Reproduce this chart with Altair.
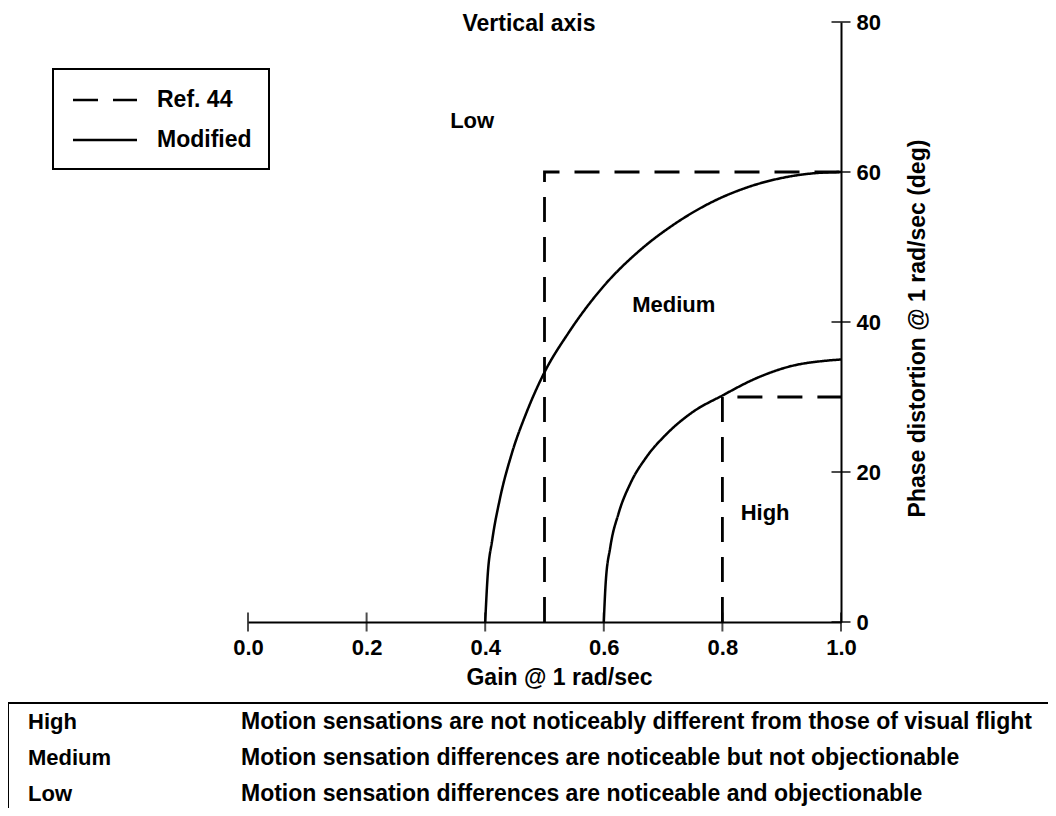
import altair as alt
import pandas as pd

FONT = "Liberation Sans"

# ---------------- data ----------------
gain_ticks = [0.0, 0.2, 0.4, 0.6, 0.8, 1.0]
phase_ticks = [0, 20, 40, 60, 80]

legend_labels = ["Ref. 44", "Modified"]

# Modified boundaries (solid curves)
mod_outer_gain = [0.400, 0.404, 0.412, 0.425, 0.445, 0.470, 0.500, 0.540, 0.600, 0.660,
                  0.720, 0.780, 0.840, 0.900, 0.950, 1.000]
mod_outer_phase = [0.0, 6.0, 11.0, 16.5, 22.5, 28.0, 33.3, 38.5, 44.8, 49.5,
                   53.1, 55.9, 57.9, 59.2, 59.8, 60.0]
mod_inner_gain = [0.600, 0.603, 0.611, 0.625, 0.645, 0.672, 0.705, 0.750, 0.800, 0.860,
                  0.920, 0.970, 1.000]
mod_inner_phase = [0.0, 5.0, 10.0, 14.5, 18.5, 22.0, 25.0, 28.0, 30.2, 32.6,
                   34.2, 34.8, 35.0]

# Ref. 44 boundaries (dashed)
ref_outer_gain = [0.5, 0.5, 1.0]
ref_outer_phase = [0, 60, 60]
ref_inner_gain = [0.8, 0.8, 1.0]
ref_inner_phase = [0, 30, 30]

# region labels
region_names = ["Low", "Medium", "High"]
region_gain = [0.378, 0.718, 0.872]
region_phase = [66.8, 42.3, 14.5]

# rating table
table_levels = ["High", "Medium", "Low"]
table_desc = [
    "Motion sensations are not noticeably different from those of visual flight",
    "Motion sensation differences are noticeable but not objectionable",
    "Motion sensation differences are noticeable and objectionable",
]


def series(name, crit, xs, ys):
    return pd.DataFrame({"gain": xs, "phase": ys, "curve": name,
                         "criterion": crit, "order": list(range(len(xs)))})


solid_df = pd.concat([series("mod_outer", "Modified", mod_outer_gain, mod_outer_phase),
                      series("mod_inner", "Modified", mod_inner_gain, mod_inner_phase)])
dash_df = pd.concat([series("ref_outer", "Ref. 44", ref_outer_gain, ref_outer_phase),
                     series("ref_inner", "Ref. 44", ref_inner_gain, ref_inner_phase)])

x_scale = alt.Scale(domain=[0, 1], nice=False, zero=False)
y_scale = alt.Scale(domain=[0, 80], nice=False)

x_axis = alt.Axis(values=gain_ticks, format=".1f", ticks=False, grid=False,
                  domainColor="black", domainWidth=2,
                  labelColor="black", labelFontSize=22, labelFontWeight="bold",
                  labelPadding=15, labelFlush=False, labelOverlap=False,
                  title="Gain @ 1 rad/sec", titleFontSize=23, titleFontWeight="bold",
                  titleColor="black", titleX=311, titleY=55,
                  titleBaseline="middle", titleAlign="center")
y_axis = alt.Axis(orient="right", values=phase_ticks, format="d", ticks=False, grid=False,
                  domainColor="black", domainWidth=2,
                  labelColor="black", labelFontSize=22, labelFontWeight="bold",
                  labelPadding=15, labelOverlap=False,
                  title="Phase distortion @ 1 rad/sec (deg)", titleFontSize=23,
                  titleFontWeight="bold", titleColor="black", titleAngle=270,
                  titleX=76, titleY=306, titleAlign="center", titleBaseline="middle")

dash_scale = alt.Scale(domain=legend_labels, range=[[25, 15], [1, 0]])

dashed = alt.Chart(dash_df).mark_line(color="black", strokeWidth=2.8, strokeCap="butt").encode(
    x=alt.X("gain:Q", scale=x_scale, axis=x_axis),
    y=alt.Y("phase:Q", scale=y_scale, axis=y_axis),
    strokeDash=alt.StrokeDash("criterion:N", scale=dash_scale, legend=None),
    detail="curve:N",
    order="order:Q",
)

solid = alt.Chart(solid_df).mark_line(color="black", strokeWidth=2.5,
                                      interpolate="monotone").encode(
    x="gain:Q", y="phase:Q",
    strokeDash=alt.StrokeDash("criterion:N", scale=dash_scale, legend=None),
    detail="curve:N",
    order="order:Q",
)

xt = alt.Chart(pd.DataFrame({"gain": gain_ticks, "phase": [0] * len(gain_ticks)})).mark_tick(
    orient="vertical", size=19, thickness=2, color="black").encode(x="gain:Q", y="phase:Q")
yt = alt.Chart(pd.DataFrame({"gain": [1.0] * len(phase_ticks), "phase": phase_ticks})).mark_tick(
    orient="horizontal", size=19, thickness=2, color="black").encode(x="gain:Q", y="phase:Q")

regions = alt.Chart(pd.DataFrame({"gain": region_gain, "phase": region_phase,
                                  "label": region_names})).mark_text(
    fontSize=22, fontWeight="bold", color="black", align="center", baseline="middle").encode(
    x="gain:Q", y="phase:Q", text="label:N")

one = pd.DataFrame({"t": ["Vertical axis"]})
vert_title = alt.Chart(one).mark_text(fontSize=23, fontWeight="bold", color="black",
                                      align="center", baseline="middle").encode(
    x=alt.value(281), y=alt.value(2), text="t:N")

# ---- legend box (key) ----
leg_box = alt.Chart(one).mark_rect(fillOpacity=0, stroke="black", strokeWidth=2).encode(
    x=alt.value(-195), x2=alt.value(21), y=alt.value(47), y2=alt.value(147))
leg_layers = [leg_box]
for lbl, dash, yy in zip(legend_labels, [[25, 15], [1, 0]], [78, 118]):
    d = pd.DataFrame({"lbl": [lbl]})
    leg_layers.append(alt.Chart(d).mark_rule(color="black", strokeWidth=2.5,
                                             strokeDash=dash, strokeCap="butt").encode(
        x=alt.value(-175), x2=alt.value(-111), y=alt.value(yy)))
    leg_layers.append(alt.Chart(d).mark_text(
        fontSize=23, fontWeight="bold", color="black", align="left", baseline="middle").encode(
        x=alt.value(-91), y=alt.value(yy), text="lbl:N"))

# ---- rating table ----
table_top = alt.Chart(one).mark_rule(color="black", strokeWidth=2).encode(
    x=alt.value(-240), x2=alt.value(800), y=alt.value(681))
table_left = alt.Chart(one).mark_rule(color="black", strokeWidth=2).encode(
    x=alt.value(-240), y=alt.value(681), y2=alt.value(800))

table_layers = []
row_y = [700, 736, 772]
for lvl, desc, yy in zip(table_levels, table_desc, row_y):
    d = pd.DataFrame({"lvl": [lvl], "desc": [desc]})
    table_layers.append(alt.Chart(d).mark_text(
        fontSize=22, fontWeight="bold", color="black", align="left", baseline="middle").encode(
        x=alt.value(-220), y=alt.value(yy), text="lvl:N"))
    table_layers.append(alt.Chart(d).mark_text(
        fontSize=23, fontWeight="bold", color="black", align="left", baseline="middle").encode(
        x=alt.value(-7), y=alt.value(yy), text="desc:N"))

chart = alt.layer(dashed, solid, xt, yt, regions, vert_title, *leg_layers,
                  table_top, table_left, *table_layers).properties(
    width=593, height=600,
    autosize=alt.AutoSizeParams(type="none"),
    padding={"left": 240, "top": 14, "right": 207, "bottom": 186},
).configure(font=FONT).configure_view(stroke=None)

chart.save("out.html", embed_options={"renderer": "svg", "actions": False})
